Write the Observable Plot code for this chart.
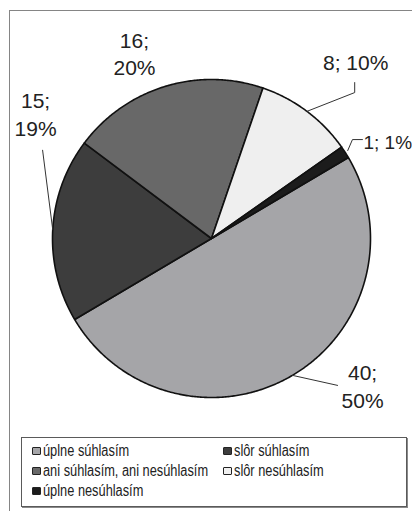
<!DOCTYPE html>
<html>
<head>
<meta charset="utf-8">
<script src="https://cdn.jsdelivr.net/npm/d3@7"></script>
<script src="https://cdn.jsdelivr.net/npm/@observablehq/plot@0.6"></script>
<style>
  body { margin: 0; background: #fff; }
  #wrap { position: relative; width: 412px; height: 511px; overflow: hidden; background: #fff; }
  #frame { position: absolute; left: 9px; top: 10px; width: 600px; height: 600px;
           border: 1.5px solid #858585; box-sizing: border-box; }
  #chart { position: absolute; left: 0; top: 0; }
  #legend { position: absolute; left: 21px; top: 437px; width: 386px; height: 70px;
            border: 1px solid #5a5a5a; box-shadow: 1px 1px 0 #8a8a8a; box-sizing: border-box;
            font-family: "Liberation Sans", Arial, sans-serif; font-size: 16px; color: #222; }
  .item { position: absolute; display: flex; align-items: center; height: 20px; white-space: nowrap; }
  .sw { flex: none; width: 9px; height: 8px; border: 1.5px solid #222; border-radius: 1px; box-sizing: border-box; margin-right: 2px; }
  .lbl { display: inline-block; transform: scaleX(0.8); transform-origin: left center; }
</style>
</head>
<body>
<div id="wrap">
  <div id="frame"></div>
  <div id="chart"></div>
  <div id="legend"></div>
</div>
<script>
// Survey answers: number of respondents per answer
const categories = [
  "úplne súhlasím",
  "slôr súhlasím",
  "ani súhlasím, ani nesúhlasím",
  "slôr nesúhlasím",
  "úplne nesúhlasím"
];
const counts = [40, 15, 16, 8, 1];
const colors = ["#a5a5a8", "#3d3d3d", "#686868", "#efefef", "#1c1c1c"];

// Pie geometry and label placement (polar offsets from each slice's mid-angle)
const R = 159;              // pixels per unit radius
const startDeg = 59.4;      // angle of the first slice, clockwise from 12 o'clock
const labelLayout = [
  {rho: 1.323, dTheta: -15.3, sep: "\n", anchor: "middle", size: 21, edge: 1.0, via: [[-25, 0.5]]},
  {rho: 1.358, dTheta: 32.3,  sep: "\n", anchor: "middle", size: 21, edge: 1.0, via: [[7, 37]]},
  {rho: 1.266, dTheta: -5.4,  sep: "\n", anchor: "middle", size: 21, edge: null, via: []},
  {rho: 1.438, dTheta: 2.2,   sep: " ",  anchor: "middle", size: 21, edge: 1.0, via: [[-1, 31.5], [-1, 21.5]]},
  {rho: 1.137, dTheta: 0.05,  sep: " ",  anchor: "start",  size: 19, edge: 1.02, via: [[-11, -1], [-1, -1]]}
];

const total = d3.sum(counts);
const rad = Math.PI / 180;
const polar = (a, r) => ({x: Math.sin(a) * r, y: Math.cos(a) * r});

// Slice outlines: center + arc points
const slicePts = [];
const labels = [];
const leaders = [];
let acc = startDeg * rad;
counts.forEach((v, i) => {
  const a0 = acc, a1 = acc + v / total * 2 * Math.PI;
  acc = a1;
  const cat = categories[i];
  slicePts.push({cat, x: 0, y: 0});
  const steps = Math.max(2, Math.ceil((a1 - a0) / (0.5 * rad)));
  for (let k = 0; k <= steps; ++k) {
    const p = polar(a0 + (a1 - a0) * k / steps, 1);
    slicePts.push({cat, ...p});
  }
  const L = labelLayout[i];
  const mid = (a0 + a1) / 2;
  const anchorPt = polar(mid + L.dTheta * rad, L.rho);
  const pct = Math.round(v / total * 100);
  labels.push({cat, ...anchorPt, text: `${v};${L.sep}${pct}%`, anchor: L.anchor, size: L.size});
  if (L.edge != null) {
    leaders.push({cat, ...polar(mid, L.edge)});
    for (const [dx, dy] of L.via) {
      leaders.push({cat, x: anchorPt.x + dx / R, y: anchorPt.y - dy / R});
    }
  }
});

const font = "'Liberation Sans', Arial, sans-serif";
const textMark = (anchor, size) => Plot.text(labels.filter(d => d.anchor === anchor && d.size === size), {
  x: "x", y: "y", text: "text", textAnchor: anchor, lineAnchor: "middle", lineHeight: 1.33,
  fontSize: size, fontFamily: font, fill: "#222"
});

const chart = Plot.plot({
  width: 412,
  height: 430,
  marginLeft: 211 - R,
  marginRight: 412 - 211 - R,
  marginTop: 238 - R,
  marginBottom: 430 - 238 - R,
  x: {domain: [-1, 1], axis: null},
  y: {domain: [-1, 1], axis: null},
  color: {domain: categories, range: colors},
  style: {background: "transparent", overflow: "visible"},
  marks: [
    Plot.line(slicePts, {
      x: "x", y: "y", z: "cat", fill: "cat", stroke: "#111", strokeWidth: 1.6,
      curve: "linear-closed", strokeLinejoin: "round"
    }),
    Plot.line(leaders, {x: "x", y: "y", z: "cat", stroke: "#333", strokeWidth: 1}),
    textMark("middle", 21),
    textMark("start", 19)
  ]
});
document.getElementById("chart").appendChild(chart);

// Legend built from the chart's color scale
const color = chart.scale("color");
const legend = document.getElementById("legend");
categories.forEach((c, i) => {
  const col = i % 2, row = Math.floor(i / 2);
  const item = document.createElement("div");
  item.className = "item";
  item.style.left = (col === 0 ? 10 : 201) + "px";
  item.style.top = (2.5 + row * 20) + "px";
  const sw = document.createElement("span");
  sw.className = "sw";
  sw.style.background = color.apply(c);
  const t = document.createElement("span");
  t.className = "lbl";
  t.textContent = c;
  item.appendChild(sw);
  item.appendChild(t);
  legend.appendChild(item);
});
</script>
</body>
</html>
